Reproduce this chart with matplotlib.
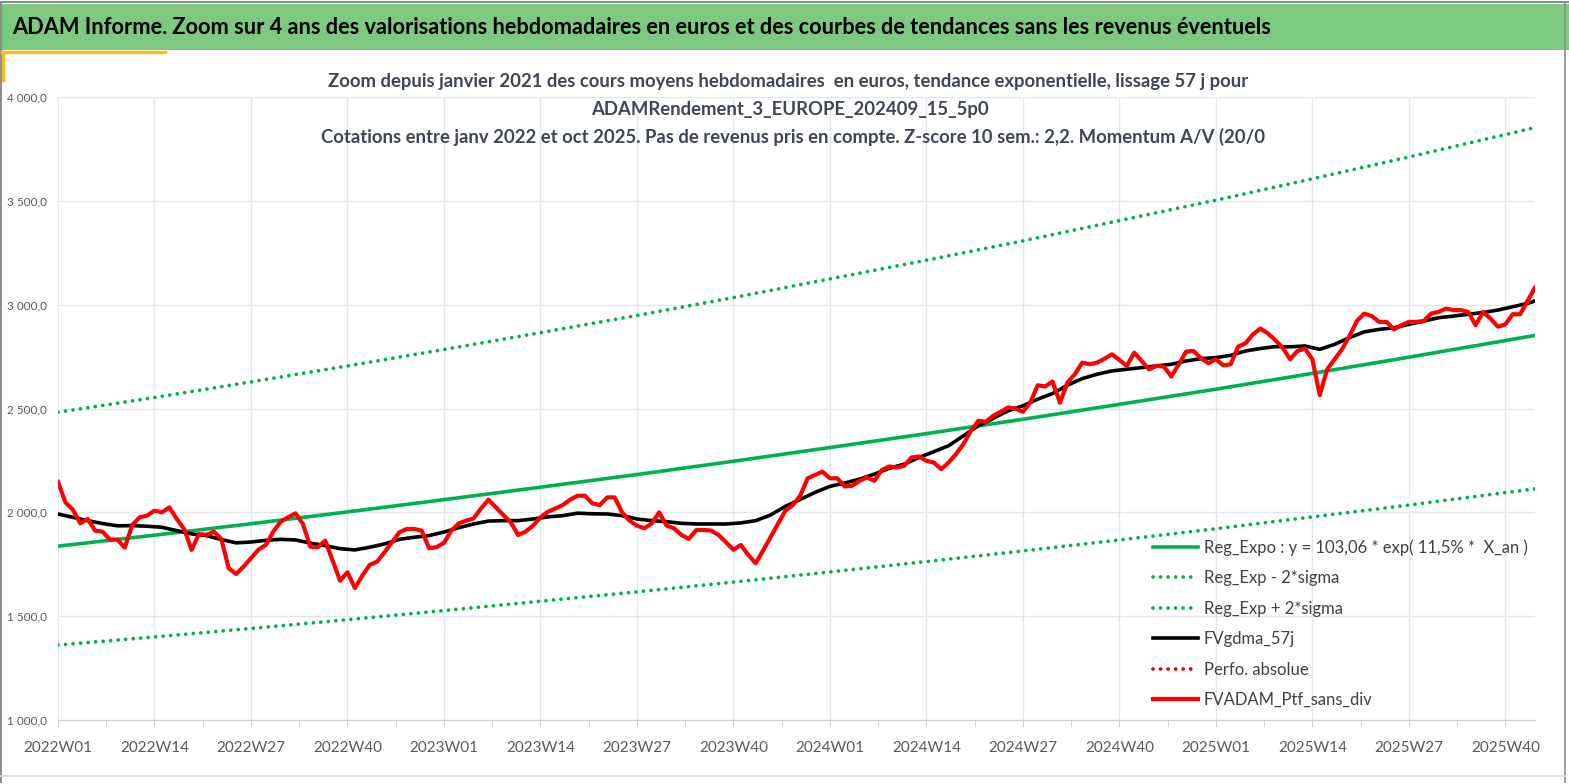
import matplotlib
matplotlib.use('Agg')
import matplotlib.pyplot as plt
from matplotlib.patches import Rectangle
from matplotlib.lines import Line2D
from matplotlib.ticker import FuncFormatter, FixedLocator
import numpy as np

# weekly values, 2022W01 .. 2025W44 (200 weeks)
red_vals = [
    2147, 2048, 2013, 1947, 1968, 1912, 1907, 1869, 1869, 1830,
    1939, 1976, 1984, 2008, 2000, 2024, 1968, 1920, 1819, 1896,
    1891, 1907, 1872, 1731, 1703, 1739, 1779, 1820, 1843, 1907,
    1955, 1976, 1995, 1944, 1834, 1832, 1864, 1768, 1671, 1711,
    1635, 1695, 1747, 1763, 1808, 1856, 1904, 1920, 1920, 1912,
    1827, 1832, 1853, 1912, 1947, 1960, 1971, 2019, 2061, 2024,
    1987, 1952, 1891, 1907, 1936, 1976, 2003, 2018, 2035, 2061,
    2080, 2080, 2043, 2035, 2072, 2072, 2000, 1960, 1936, 1923,
    1947, 2000, 1936, 1923, 1891, 1872, 1915, 1915, 1912, 1891,
    1856, 1820, 1843, 1795, 1755, 1816, 1880, 1944, 2008, 2035,
    2080, 2164, 2180, 2196, 2164, 2164, 2125, 2128, 2152, 2168,
    2152, 2204, 2221, 2216, 2224, 2264, 2269, 2248, 2240, 2208,
    2240, 2281, 2329, 2393, 2441, 2436, 2465, 2484, 2505, 2500,
    2484, 2529, 2612, 2606, 2630, 2528, 2625, 2665, 2721, 2713,
    2721, 2740, 2761, 2734, 2705, 2769, 2729, 2689, 2705, 2702,
    2654, 2713, 2774, 2777, 2742, 2718, 2737, 2708, 2713, 2798,
    2814, 2857, 2885, 2862, 2830, 2793, 2737, 2777, 2789, 2737,
    2564, 2689, 2737, 2785, 2849, 2921, 2957, 2945, 2917, 2917,
    2881, 2901, 2917, 2917, 2921, 2957, 2965, 2981, 2974, 2974,
    2965, 2901, 2965, 2933, 2894, 2905, 2954, 2954, 3018, 3082,
]

# moving average (57 j), read every 2 weeks
black_weeks = list(range(0, 200, 2)) + [199]
black_vals = [
    1992, 1976, 1960, 1946, 1935, 1936, 1933, 1928, 1912, 1896,
    1888, 1869, 1853, 1857, 1865, 1870, 1867, 1852, 1840, 1825,
    1819, 1832, 1848, 1870, 1880, 1888, 1905, 1926, 1944, 1958,
    1960, 1960, 1968, 1978, 1984, 1996, 1993, 1992, 1984, 1968,
    1960, 1955, 1947, 1944, 1944, 1944, 1949, 1960, 1987, 2029,
    2062, 2096, 2125, 2141, 2160, 2184, 2212, 2232, 2264, 2292,
    2321, 2369, 2417, 2452, 2489, 2513, 2545, 2572, 2612, 2644,
    2665, 2681, 2689, 2697, 2705, 2713, 2729, 2740, 2745, 2756,
    2777, 2789, 2798, 2797, 2801, 2785, 2809, 2841, 2869, 2881,
    2889, 2905, 2921, 2937, 2945, 2954, 2962, 2974, 2990, 3006,
    3018,
]

# trend lines, read at each labelled week and at the last week
trend_weeks = [0, 13, 26, 39, 52, 65, 78, 91, 104, 117, 130, 143, 156, 169, 182, 195, 199]
reg_expo = [1837, 1890, 1945, 2002, 2061, 2121, 2182, 2246, 2312, 2379,
            2448, 2520, 2593, 2669, 2747, 2827, 2852]
reg_plus = [2482, 2553, 2628, 2705, 2784, 2865, 2948, 3034, 3124, 3214,
            3307, 3405, 3503, 3606, 3711, 3819, 3853]
reg_minus = [1361, 1400, 1441, 1483, 1527, 1572, 1617, 1664, 1713, 1763,
             1814, 1867, 1921, 1978, 2035, 2095, 2113]

tick_labels = ['2022W01', '2022W14', '2022W27', '2022W40',
               '2023W01', '2023W14', '2023W27', '2023W40',
               '2024W01', '2024W14', '2024W27', '2024W40',
               '2025W01', '2025W14', '2025W27', '2025W40']

title = ('ADAM Informe. Zoom sur 4 ans des valorisations hebdomadaires en euros '
         'et des courbes de tendances sans les revenus éventuels')
sub1 = ('Zoom depuis janvier 2021 des cours moyens hebdomadaires  en euros, '
        'tendance exponentielle, lissage 57 j pour')
sub2 = 'ADAMRendement_3_EUROPE_202409_15_5p0'
sub3 = ('Cotations entre janv 2022 et oct 2025. Pas de revenus pris en compte. '
        'Z-score 10 sem.: 2,2. Momentum A/V (20/0')

plt.rcParams['font.family'] = ['Lato', 'DejaVu Sans']

W, H = 1569, 784
fx = lambda px: px / W
fy = lambda py: 1 - py / H

fig = plt.figure(figsize=(W / 100, H / 100), dpi=100)


def fit_width(txt, width_px):
    # shrink / grow the font so the text spans the same width as in the reference
    fig.canvas.draw()
    bb = txt.get_window_extent()
    txt.set_fontsize(txt.get_fontsize() * width_px / bb.width)


# header band and frame
fig.patches.append(Rectangle((0, fy(50)), 1, (50 - 4) / H, transform=fig.transFigure,
                             facecolor='#7DC97F', edgecolor='none', zorder=0))
fig.lines.append(Line2D([0, 1], [fy(2), fy(2)], transform=fig.transFigure, color='#8C8C8C', lw=1.5))
fig.lines.append(Line2D([fx(1), fx(1)], [fy(2), fy(782)], transform=fig.transFigure, color='#8C8C8C', lw=1.5))
fig.lines.append(Line2D([fx(1565), fx(1565)], [fy(2), fy(782)], transform=fig.transFigure, color='#8C8C8C', lw=1.2))
fig.lines.append(Line2D([0, fx(1565)], [fy(776), fy(776)], transform=fig.transFigure, color='#D9D9D9', lw=1.2))
fig.lines.append(Line2D([fx(2), fx(165)], [fy(52), fy(52)], transform=fig.transFigure, color='#F2C21B', lw=2.5))
fig.lines.append(Line2D([fx(3), fx(3)], [fy(52), fy(80)], transform=fig.transFigure, color='#F2C21B', lw=2.5))

t0 = fig.text(fx(12), fy(28), title, fontsize=15, fontweight='bold', color='black',
              va='center', ha='left')
fit_width(t0, 1263)

sub_col = '#3E4653'
t1 = fig.text(fx(788), fy(82), sub1, fontsize=12.5, fontweight='bold', color=sub_col, ha='center', va='center')
fit_width(t1, 925)
fs_sub = t1.get_fontsize()
fig.text(fx(790), fy(110), sub2, fontsize=fs_sub, fontweight='bold', color=sub_col, ha='center', va='center')
fig.text(fx(793), fy(137), sub3, fontsize=fs_sub, fontweight='bold', color=sub_col, ha='center', va='center')

ax = fig.add_axes([fx(58), 64 / H, (1535 - 58) / W, (720 - 97) / H])
ax.set_zorder(1)
ax.patch.set_alpha(0)

dots = (0, (0.01, 2.0))
x_red = np.arange(len(red_vals))
ax.plot(trend_weeks, reg_expo, color='#00B050', lw=2.6, label='Reg_Expo : y = 103,06 * exp( 11,5% *  X_an )')
ax.plot(trend_weeks, reg_minus, color='#00B050', lw=2.7, ls=dots, dash_capstyle='round',
        label='Reg_Exp - 2*sigma')
ax.plot(trend_weeks, reg_plus, color='#00B050', lw=2.7, ls=dots, dash_capstyle='round',
        label='Reg_Exp + 2*sigma')
ax.plot(black_weeks, black_vals, color='black', lw=2.6, label='FVgdma_57j')
ax.plot([], [], color='#E00000', lw=2.7, ls=dots, dash_capstyle='round', label='Perfo. absolue')
ax.plot(x_red, red_vals, color='#FF0000', lw=3.0, label='FVADAM_Ptf_sans_div')

ax.set_xlim(0, len(red_vals) - 1)
ax.set_ylim(1000, 4000)
ax.set_yticks(np.arange(1000, 4001, 500))
ax.yaxis.set_major_formatter(FuncFormatter(
    lambda v, p: f'{v:,.1f}'.replace(',', ' ').replace('.', ',')))
major = np.arange(0, len(red_vals), 13)
ax.xaxis.set_major_locator(FixedLocator(major))
ax.set_xticklabels(tick_labels)
ax.xaxis.set_minor_locator(FixedLocator(major + 6.5))

ax.grid(True, which='major', color='#E3E6EC', lw=1.0)
ax.set_axisbelow(True)
for s in ['top', 'right', 'left']:
    ax.spines[s].set_visible(False)
ax.spines['bottom'].set_color('#D0D0D0')
ax.tick_params(axis='y', length=0, labelsize=8.5, labelcolor='#595959', pad=8)
ax.tick_params(axis='x', which='both', length=5, color='#D0D0D0', labelsize=11,
               labelcolor='#595959', pad=10)

leg = ax.legend(loc='upper left', bbox_to_anchor=(fx(1153), fy(539)), bbox_transform=fig.transFigure,
                frameon=False, fontsize=12, handlelength=2.7, handletextpad=0.35,
                labelspacing=0.87, borderpad=0, borderaxespad=0)
for t in leg.get_texts():
    t.set_color('#404040')

fig.savefig('out.png', dpi=100)
